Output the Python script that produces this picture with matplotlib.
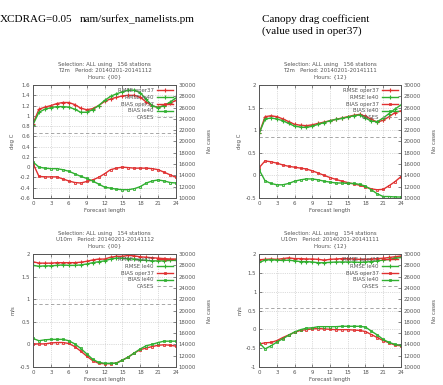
import matplotlib
matplotlib.use("Agg")
import matplotlib.pyplot as plt
import numpy as np

hours = list(range(25))

# T2m, hours {00}
t00_rmse_oper = [0.85, 1.13, 1.17, 1.20, 1.24, 1.26, 1.26, 1.22, 1.15, 1.12, 1.14, 1.20, 1.28,
                 1.33, 1.36, 1.39, 1.40, 1.40, 1.36, 1.27, 1.19, 1.17, 1.20, 1.25, 1.30]
t00_rmse_le40 = [0.83, 1.07, 1.13, 1.16, 1.18, 1.18, 1.17, 1.13, 1.07, 1.07, 1.12, 1.20, 1.30,
                 1.38, 1.43, 1.47, 1.50, 1.50, 1.45, 1.32, 1.20, 1.16, 1.20, 1.27, 1.35]
t00_bias_oper = [0.07, -0.18, -0.19, -0.19, -0.19, -0.23, -0.27, -0.30, -0.31, -0.28, -0.25, -0.20, -0.13,
                 -0.05, -0.02, 0.00, -0.01, -0.02, -0.02, -0.02, -0.03, -0.05, -0.10, -0.15, -0.20]
t00_bias_le40 = [0.10, 0.00, -0.02, -0.03, -0.03, -0.05, -0.08, -0.13, -0.18, -0.22, -0.27, -0.33, -0.39,
                 -0.41, -0.43, -0.44, -0.44, -0.42, -0.38, -0.31, -0.27, -0.25, -0.27, -0.30, -0.31]
t00_cases = [21450] * 25

# T2m, hours {12}
t12_rmse_oper = [0.93, 1.30, 1.32, 1.30, 1.25, 1.19, 1.13, 1.11, 1.10, 1.12, 1.15, 1.18, 1.21,
                 1.24, 1.27, 1.30, 1.33, 1.35, 1.31, 1.24, 1.18, 1.22, 1.30, 1.39, 1.43]
t12_rmse_le40 = [0.93, 1.25, 1.27, 1.25, 1.21, 1.15, 1.09, 1.07, 1.06, 1.09, 1.13, 1.17, 1.21,
                 1.24, 1.26, 1.29, 1.32, 1.34, 1.27, 1.20, 1.19, 1.27, 1.37, 1.47, 1.56]
t12_bias_oper = [0.17, 0.32, 0.30, 0.27, 0.23, 0.20, 0.18, 0.16, 0.14, 0.10, 0.05, 0.00, -0.05,
                 -0.09, -0.13, -0.16, -0.19, -0.22, -0.26, -0.30, -0.32, -0.31, -0.23, -0.14, -0.03]
t12_bias_le40 = [0.12, -0.12, -0.18, -0.21, -0.21, -0.18, -0.13, -0.10, -0.08, -0.08, -0.10, -0.13, -0.15,
                 -0.17, -0.17, -0.18, -0.18, -0.20, -0.24, -0.32, -0.41, -0.47, -0.47, -0.48, -0.48]
t12_cases = [20850] * 25

# U10m, hours {00}
u00_rmse_oper = [1.83, 1.80, 1.80, 1.80, 1.81, 1.81, 1.81, 1.81, 1.82, 1.84, 1.87, 1.89, 1.89,
                 1.93, 1.95, 1.95, 1.97, 1.96, 1.94, 1.93, 1.92, 1.91, 1.90, 1.89, 1.89]
u00_rmse_le40 = [1.75, 1.73, 1.74, 1.74, 1.75, 1.76, 1.75, 1.75, 1.76, 1.78, 1.81, 1.83, 1.85,
                 1.89, 1.91, 1.91, 1.90, 1.89, 1.87, 1.86, 1.85, 1.85, 1.85, 1.86, 1.86]
u00_bias_oper = [0.01, 0.01, 0.01, 0.03, 0.04, 0.04, 0.02, -0.05, -0.15, -0.26, -0.36, -0.42, -0.43,
                 -0.43, -0.41, -0.35, -0.28, -0.19, -0.12, -0.08, -0.05, -0.02, -0.01, -0.02, -0.04]
u00_bias_le40 = [0.13, 0.08, 0.10, 0.11, 0.11, 0.11, 0.08, 0.01, -0.09, -0.21, -0.33, -0.40, -0.42,
                 -0.42, -0.42, -0.35, -0.28, -0.19, -0.10, -0.03, 0.00, 0.04, 0.07, 0.07, 0.07]
u00_cases = [21100] * 25

# U10m, hours {12}
u12_rmse_oper = [1.85, 1.86, 1.87, 1.86, 1.88, 1.90, 1.88, 1.88, 1.87, 1.87, 1.86, 1.84, 1.86,
                 1.87, 1.88, 1.88, 1.87, 1.86, 1.86, 1.87, 1.88, 1.89, 1.91, 1.93, 1.95]
u12_rmse_le40 = [1.78, 1.84, 1.85, 1.84, 1.83, 1.84, 1.82, 1.80, 1.80, 1.79, 1.77, 1.77, 1.78,
                 1.79, 1.79, 1.79, 1.79, 1.78, 1.79, 1.80, 1.82, 1.84, 1.86, 1.89, 1.91]
u12_bias_oper = [-0.39, -0.36, -0.35, -0.30, -0.22, -0.15, -0.08, -0.03, -0.01, 0.01, 0.02, 0.01, 0.00,
                 -0.01, -0.01, -0.01, -0.02, -0.03, -0.06, -0.14, -0.22, -0.30, -0.36, -0.42, -0.44]
u12_bias_le40 = [-0.36, -0.52, -0.44, -0.34, -0.25, -0.16, -0.07, -0.01, 0.03, 0.04, 0.07, 0.07, 0.07,
                 0.07, 0.08, 0.08, 0.08, 0.08, 0.06, -0.05, -0.15, -0.27, -0.35, -0.40, -0.43]
u12_cases = [20500] * 25

RED = "#e03030"
GREEN = "#30b030"
GREY = "#555555"
FS = 3.9

plt.rcParams['font.family'] = 'DejaVu Sans'

fig = plt.figure(figsize=(4.43, 3.85), dpi=100)


def draw_panel(rect, title, yticks, ylabel, rmse_o, rmse_l, bias_o, bias_l, cases):
    ax = fig.add_axes(rect)
    ax2 = ax.twinx()
    ax.plot(hours, rmse_o, color=RED, lw=1.0, marker='+', ms=2.5, mew=0.8, label='RMSE oper37')
    ax.plot(hours, rmse_l, color=GREEN, lw=1.0, marker='+', ms=2.5, mew=0.8, label='RMSE le40')
    ax.plot(hours, bias_o, color=RED, lw=1.0, marker='s', ms=2.0, mew=0.6, mfc='none', label='BIAS oper37')
    ax.plot(hours, bias_l, color=GREEN, lw=1.0, marker='s', ms=2.0, mew=0.6, mfc='none', label='BIAS le40')
    ax2.plot(hours, cases, color='#999999', lw=0.6, ls=(0, (4, 3)), label='CASES')
    ax.set_xlim(0, 24)
    ax.set_xticks(range(0, 25, 3))
    ax.set_ylim(yticks[0], yticks[-1])
    ax.set_yticks(yticks)
    ax2.set_ylim(10000, 30000)
    ax2.set_yticks(range(10000, 30001, 2000))
    ax.yaxis.set_major_formatter(matplotlib.ticker.FuncFormatter(lambda v, p: ('%g' % round(v, 2))))
    ax.grid(True, ls=':', color='#bbbbbb', lw=0.5)
    for a in (ax, ax2):
        a.tick_params(labelsize=FS, colors=GREY, length=2, width=0.5, direction='in', pad=2)
        for s in a.spines.values():
            s.set_color(GREY)
            s.set_linewidth(0.6)
    ax.tick_params(top=True)
    ax.set_xlabel('Forecast length', fontsize=FS, color=GREY, labelpad=2)
    ax.set_ylabel(ylabel, fontsize=FS, color=GREY, labelpad=3)
    ax2.set_ylabel('No cases', fontsize=FS, color=GREY, labelpad=8)
    ax.set_title(title, fontsize=FS, color=GREY, linespacing=1.3, pad=5)
    h1, l1 = ax.get_legend_handles_labels()
    h2, l2 = ax2.get_legend_handles_labels()
    leg = ax2.legend(h1 + h2, l1 + l2, loc='upper right', fontsize=FS, frameon=False,
                     markerfirst=False, handlelength=3.0, labelspacing=0.35,
                     borderaxespad=0.1, handletextpad=0.6)
    for t in leg.get_texts():
        t.set_color(GREY)
    return ax


draw_panel([0.0745, 0.486, 0.323, 0.293],
           "Selection: ALL using   156 stations\nT2m   Period: 20140201-20141112\nHours: {00}",
           [-0.6, -0.4, -0.2, 0, 0.2, 0.4, 0.6, 0.8, 1, 1.2, 1.4, 1.6], 'deg C',
           t00_rmse_oper, t00_rmse_le40, t00_bias_oper, t00_bias_le40, t00_cases)
draw_panel([0.585, 0.486, 0.32, 0.293],
           "Selection: ALL using   156 stations\nT2m   Period: 20140201-20141111\nHours: {12}",
           [-0.5, 0, 0.5, 1, 1.5, 2], 'deg C',
           t12_rmse_oper, t12_rmse_le40, t12_bias_oper, t12_bias_le40, t12_cases)
draw_panel([0.0745, 0.047, 0.323, 0.293],
           "Selection: ALL using   154 stations\nU10m   Period: 20140201-20141112\nHours: {00}",
           [-0.5, 0, 0.5, 1, 1.5, 2], 'm/s',
           u00_rmse_oper, u00_rmse_le40, u00_bias_oper, u00_bias_le40, u00_cases)
draw_panel([0.585, 0.047, 0.32, 0.293],
           "Selection: ALL using   154 stations\nU10m   Period: 20140201-20141111\nHours: {12}",
           [-1, -0.5, 0, 0.5, 1, 1.5, 2], 'm/s',
           u12_rmse_oper, u12_rmse_le40, u12_bias_oper, u12_bias_le40, u12_cases)

# header notes
fig.text(0.0, 0.95, 'XCDRAG=0.05', fontsize=8, family='Liberation Serif', va='center')
fig.text(0.18, 0.95, 'nam/surfex_namelists.pm', fontsize=8, family='Liberation Serif', va='center')
fig.text(0.592, 0.95, 'Canopy drag coefficient', fontsize=8, family='Liberation Serif', va='center')
fig.text(0.592, 0.919, '(value used in oper37)', fontsize=8, family='Liberation Serif', va='center')

fig.savefig('out.png', dpi=100)
